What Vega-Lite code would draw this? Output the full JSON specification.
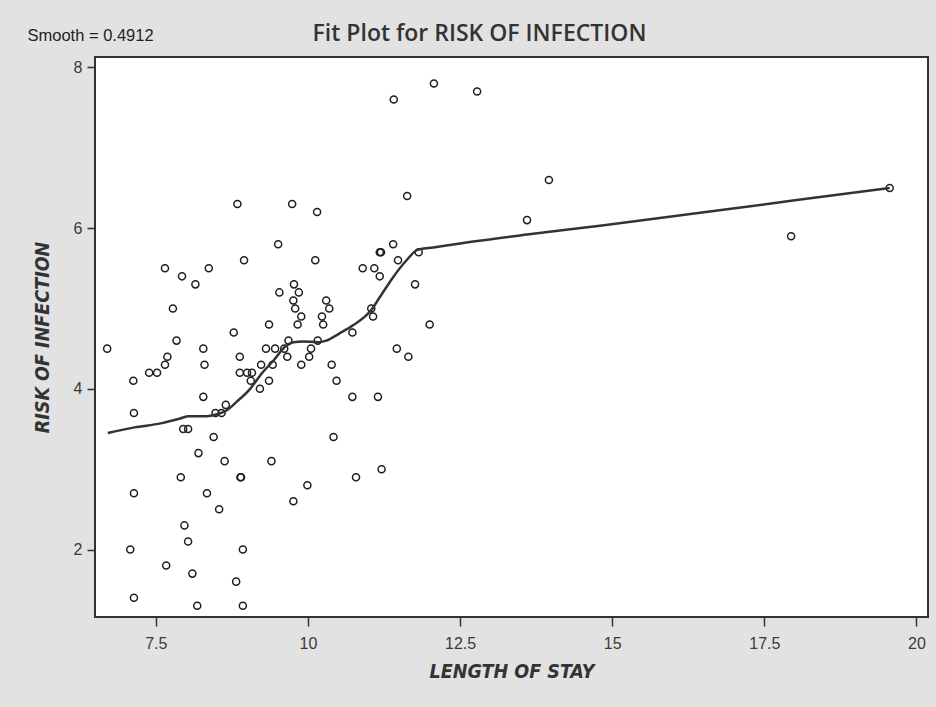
{
  "$schema": "https://vega.github.io/schema/vega-lite/v6.json",
  "width": 833,
  "height": 560,
  "autosize": {"type": "none"},
  "padding": {"left": 95, "top": 57, "right": 8, "bottom": 90},
  "background": "#e2e2e2",
  "title": {
    "text": "Fit Plot for  RISK OF INFECTION",
    "anchor": "middle",
    "frame": "group",
    "dx": -32,
    "offset": -37,
    "baseline": "alphabetic",
    "font": "Open Sans",
    "fontSize": 23,
    "fontWeight": 600,
    "color": "#333333"
  },
  "config": {
    "view": {"stroke": "#333333", "strokeWidth": 2, "fill": "white"},
    "axis": {
      "grid": false,
      "domain": false,
      "tickColor": "#333333",
      "tickWidth": 1.5,
      "labelColor": "#3a3a3a",
      "labelFont": "Liberation Sans",
      "labelFontSize": 16,
      "titleFont": "Liberation Sans Narrow, DejaVu Sans Condensed, Liberation Sans",
      "titleFontStyle": "italic",
      "titleFontWeight": "bold",
      "titleFontSize": 19.5,
      "titleColor": "#333333"
    }
  },
  "datasets": {
    "points": [
      {"los": 6.70, "risk": 4.5}, {"los": 7.13, "risk": 4.1}, {"los": 7.14, "risk": 3.7}, {"los": 7.65, "risk": 5.5},
      {"los": 7.93, "risk": 5.4}, {"los": 8.15, "risk": 5.3}, {"los": 8.37, "risk": 5.5}, {"los": 7.78, "risk": 5.0},
      {"los": 7.84, "risk": 4.6}, {"los": 7.69, "risk": 4.4}, {"los": 7.65, "risk": 4.3}, {"los": 7.39, "risk": 4.2},
      {"los": 7.52, "risk": 4.2}, {"los": 8.28, "risk": 4.5}, {"los": 8.30, "risk": 4.3}, {"los": 8.28, "risk": 3.9},
      {"los": 8.95, "risk": 5.6}, {"los": 8.78, "risk": 4.7}, {"los": 8.88, "risk": 4.4}, {"los": 8.88, "risk": 4.2},
      {"los": 9.00, "risk": 4.2}, {"los": 9.08, "risk": 4.2}, {"los": 9.06, "risk": 4.1}, {"los": 9.23, "risk": 4.3},
      {"los": 9.31, "risk": 4.5}, {"los": 9.46, "risk": 4.5}, {"los": 9.36, "risk": 4.8}, {"los": 9.51, "risk": 5.8},
      {"los": 9.53, "risk": 5.2}, {"los": 9.42, "risk": 4.3}, {"los": 9.36, "risk": 4.1}, {"los": 9.21, "risk": 4.0},
      {"los": 9.66, "risk": 4.4}, {"los": 9.68, "risk": 4.6}, {"los": 8.65, "risk": 3.8}, {"los": 8.48, "risk": 3.7},
      {"los": 8.58, "risk": 3.7}, {"los": 7.95, "risk": 3.5}, {"los": 8.03, "risk": 3.5}, {"los": 8.45, "risk": 3.4},
      {"los": 8.20, "risk": 3.2}, {"los": 8.63, "risk": 3.1}, {"los": 9.40, "risk": 3.1}, {"los": 7.91, "risk": 2.9},
      {"los": 8.90, "risk": 2.9}, {"los": 8.89, "risk": 2.9}, {"los": 7.14, "risk": 2.7}, {"los": 8.34, "risk": 2.7},
      {"los": 8.54, "risk": 2.5}, {"los": 7.97, "risk": 2.3}, {"los": 8.03, "risk": 2.1}, {"los": 7.08, "risk": 2.0},
      {"los": 8.93, "risk": 2.0}, {"los": 7.67, "risk": 1.8}, {"los": 8.10, "risk": 1.7}, {"los": 8.82, "risk": 1.6},
      {"los": 7.14, "risk": 1.4}, {"los": 8.18, "risk": 1.3}, {"los": 8.93, "risk": 1.3},
      {"los": 9.74, "risk": 6.3}, {"los": 10.15, "risk": 6.2}, {"los": 11.63, "risk": 6.4}, {"los": 10.12, "risk": 5.6},
      {"los": 11.40, "risk": 5.8}, {"los": 11.20, "risk": 5.7}, {"los": 11.18, "risk": 5.7}, {"los": 11.48, "risk": 5.6},
      {"los": 11.82, "risk": 5.7}, {"los": 10.90, "risk": 5.5}, {"los": 11.09, "risk": 5.5}, {"los": 11.18, "risk": 5.4},
      {"los": 11.76, "risk": 5.3}, {"los": 9.77, "risk": 5.3}, {"los": 9.85, "risk": 5.2}, {"los": 9.76, "risk": 5.1},
      {"los": 9.79, "risk": 5.0}, {"los": 9.89, "risk": 4.9}, {"los": 9.83, "risk": 4.8}, {"los": 10.30, "risk": 5.1},
      {"los": 10.35, "risk": 5.0}, {"los": 10.23, "risk": 4.9}, {"los": 10.25, "risk": 4.8}, {"los": 10.73, "risk": 4.7},
      {"los": 11.07, "risk": 4.9}, {"los": 11.04, "risk": 5.0}, {"los": 12.00, "risk": 4.8}, {"los": 10.16, "risk": 4.6},
      {"los": 9.61, "risk": 4.5}, {"los": 10.05, "risk": 4.5}, {"los": 10.02, "risk": 4.4}, {"los": 9.89, "risk": 4.3},
      {"los": 10.39, "risk": 4.3}, {"los": 10.47, "risk": 4.1}, {"los": 11.46, "risk": 4.5}, {"los": 11.65, "risk": 4.4},
      {"los": 10.73, "risk": 3.9}, {"los": 11.15, "risk": 3.9}, {"los": 10.42, "risk": 3.4}, {"los": 11.21, "risk": 3.0},
      {"los": 10.79, "risk": 2.9}, {"los": 9.99, "risk": 2.8}, {"los": 9.76, "risk": 2.6}, {"los": 8.84, "risk": 6.3},
      {"los": 11.41, "risk": 7.6}, {"los": 12.07, "risk": 7.8}, {"los": 12.78, "risk": 7.7}, {"los": 13.96, "risk": 6.6},
      {"los": 13.60, "risk": 6.1}, {"los": 17.94, "risk": 5.9}, {"los": 19.56, "risk": 6.5}
    ],
    "fit": [
      {"los": 6.71, "risk": 3.45}, {"los": 7.15, "risk": 3.52}, {"los": 7.58, "risk": 3.57}, {"los": 7.90, "risk": 3.63},
      {"los": 8.04, "risk": 3.66}, {"los": 8.33, "risk": 3.66}, {"los": 8.49, "risk": 3.68}, {"los": 8.66, "risk": 3.73},
      {"los": 8.83, "risk": 3.84}, {"los": 9.05, "risk": 4.00}, {"los": 9.25, "risk": 4.20}, {"los": 9.43, "risk": 4.35},
      {"los": 9.62, "risk": 4.52}, {"los": 9.76, "risk": 4.58}, {"los": 9.92, "risk": 4.59}, {"los": 10.17, "risk": 4.58},
      {"los": 10.30, "risk": 4.60}, {"los": 10.52, "risk": 4.69}, {"los": 10.74, "risk": 4.79}, {"los": 11.04, "risk": 4.98},
      {"los": 11.18, "risk": 5.14}, {"los": 11.40, "risk": 5.39}, {"los": 11.62, "risk": 5.60}, {"los": 11.80, "risk": 5.73},
      {"los": 12.06, "risk": 5.76}, {"los": 12.50, "risk": 5.81}, {"los": 13.60, "risk": 5.92}, {"los": 14.80, "risk": 6.03},
      {"los": 17.94, "risk": 6.34}, {"los": 19.56, "risk": 6.50}
    ]
  },
  "layer": [
    {
      "data": {"name": "points"},
      "mark": {"type": "point", "shape": "circle", "filled": false, "size": 50, "strokeWidth": 1.5, "color": "#1e1e1e", "opacity": 1},
      "encoding": {
        "x": {
          "field": "los", "type": "quantitative", "title": "LENGTH OF STAY",
          "scale": {"domain": [6.5, 20.19], "nice": false, "zero": false},
          "axis": {"orient": "bottom", "values": [7.5, 10, 12.5, 15, 17.5, 20], "labelExpr": "format(datum.value, '.3~g')", "tickSize": 9, "labelPadding": 9, "titlePadding": 11}
        },
        "y": {
          "field": "risk", "type": "quantitative", "title": "RISK OF INFECTION",
          "scale": {"domain": [1.16, 8.13], "nice": false, "zero": false},
          "axis": {"values": [2, 4, 6, 8], "format": "d", "tickSize": 8, "labelPadding": 5, "titlePadding": 21}
        }
      }
    },
    {
      "data": {"name": "fit"},
      "mark": {"type": "line", "color": "#333333", "strokeWidth": 2.5, "interpolate": "monotone"},
      "encoding": {
        "x": {
          "field": "los", "type": "quantitative", "title": "Smooth = 0.4912",
          "scale": {"domain": [6.5, 20.19], "nice": false, "zero": false},
          "axis": {"orient": "top", "labels": false, "ticks": false, "domain": false, "titleAnchor": "start", "titleAlign": "left", "titleBaseline": "alphabetic", "titleX": -68, "titleY": -17, "titleAngle": 0, "titleFont": "Liberation Sans", "titleFontStyle": "normal", "titleFontWeight": "normal", "titleFontSize": 16.5, "titleColor": "#222222"}
        },
        "y": {
          "field": "risk", "type": "quantitative", "title": "RISK OF INFECTION",
          "scale": {"domain": [1.16, 8.13], "nice": false, "zero": false}
        }
      }
    }
  ],
  "resolve": {"axis": {"x": "independent"}}
}
